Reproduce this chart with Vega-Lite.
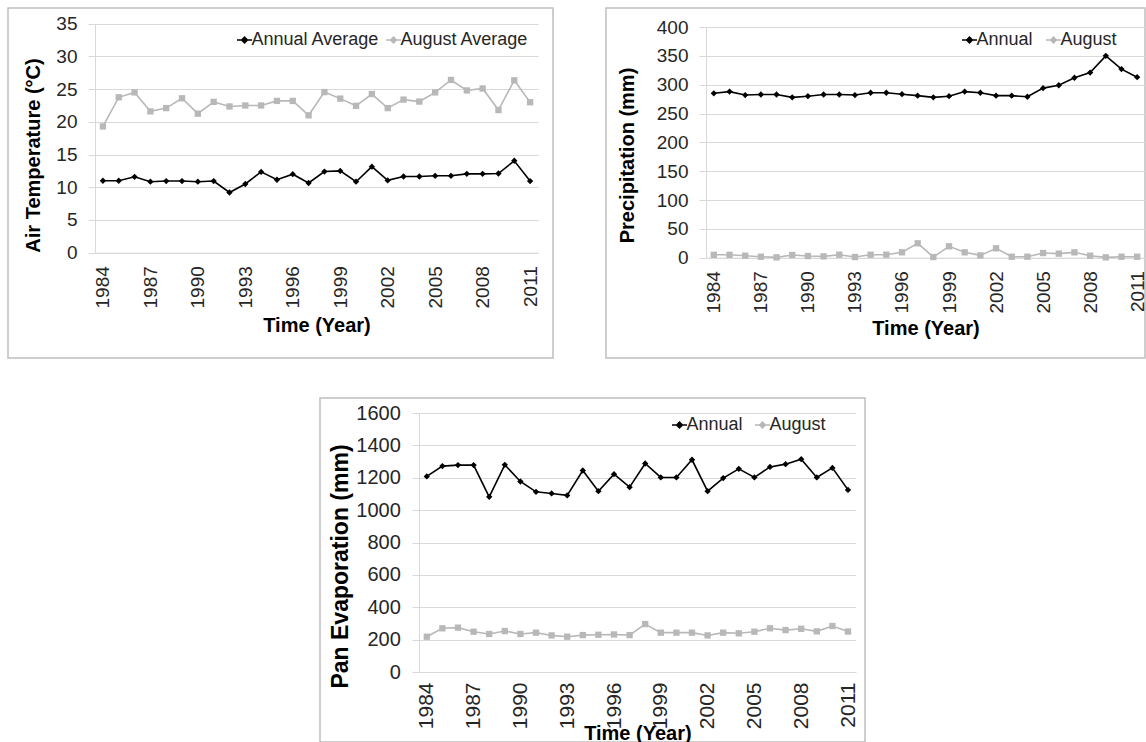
{
  "$schema": "https://vega.github.io/schema/vega-lite/v6.json",
  "padding": {"left": 7, "top": 7, "right": 0, "bottom": 0},
  "background": "white",
  "bounds": "full",
  "spacing": 38,
  "resolve": {"scale": {"color": "independent", "shape": "independent"}, "legend": {"color": "independent", "shape": "independent"}},
  "config": {
    "font": "Liberation Sans",
    "axis": {"labelFont": "Liberation Sans", "labelFontSize": 19, "labelColor": "#262626", "titleFont": "Liberation Sans", "titleFontSize": 20, "titleFontWeight": "bold", "titleColor": "#000000", "gridColor": "#d9d9d9", "domainColor": "#d9d9d9", "tickColor": "#d9d9d9", "gridWidth": 1, "domainWidth": 1, "tickWidth": 1, "labelOverlap": false, "labelFlush": false, "labelBound": false},
    "legend": {"labelFont": "Liberation Sans", "labelFontSize": 18, "labelColor": "#262626", "padding": 0, "symbolSize": 225, "symbolStrokeWidth": 1.6, "labelOffset": -2, "direction": "horizontal", "orient": "none", "title": null}
  },
  "datasets": {
    "temp": [
      {"year":1984,"series":"Annual Average","value":11.0},{"year":1985,"series":"Annual Average","value":11.0},{"year":1986,"series":"Annual Average","value":11.6},{"year":1987,"series":"Annual Average","value":10.85},{"year":1988,"series":"Annual Average","value":10.95},{"year":1989,"series":"Annual Average","value":10.95},{"year":1990,"series":"Annual Average","value":10.85},{"year":1991,"series":"Annual Average","value":10.95},{"year":1992,"series":"Annual Average","value":9.2},{"year":1993,"series":"Annual Average","value":10.5},{"year":1994,"series":"Annual Average","value":12.35},{"year":1995,"series":"Annual Average","value":11.15},{"year":1996,"series":"Annual Average","value":12.0},{"year":1997,"series":"Annual Average","value":10.65},{"year":1998,"series":"Annual Average","value":12.4},{"year":1999,"series":"Annual Average","value":12.5},{"year":2000,"series":"Annual Average","value":10.85},{"year":2001,"series":"Annual Average","value":13.15},{"year":2002,"series":"Annual Average","value":11.05},{"year":2003,"series":"Annual Average","value":11.65},{"year":2004,"series":"Annual Average","value":11.65},{"year":2005,"series":"Annual Average","value":11.75},{"year":2006,"series":"Annual Average","value":11.75},{"year":2007,"series":"Annual Average","value":12.05},{"year":2008,"series":"Annual Average","value":12.05},{"year":2009,"series":"Annual Average","value":12.1},{"year":2010,"series":"Annual Average","value":14.05},{"year":2011,"series":"Annual Average","value":10.95},
      {"year":1984,"series":"August Average","value":19.3},{"year":1985,"series":"August Average","value":23.75},{"year":1986,"series":"August Average","value":24.5},{"year":1987,"series":"August Average","value":21.6},{"year":1988,"series":"August Average","value":22.1},{"year":1989,"series":"August Average","value":23.6},{"year":1990,"series":"August Average","value":21.25},{"year":1991,"series":"August Average","value":23.05},{"year":1992,"series":"August Average","value":22.35},{"year":1993,"series":"August Average","value":22.5},{"year":1994,"series":"August Average","value":22.5},{"year":1995,"series":"August Average","value":23.2},{"year":1996,"series":"August Average","value":23.2},{"year":1997,"series":"August Average","value":21.0},{"year":1998,"series":"August Average","value":24.55},{"year":1999,"series":"August Average","value":23.55},{"year":2000,"series":"August Average","value":22.45},{"year":2001,"series":"August Average","value":24.25},{"year":2002,"series":"August Average","value":22.1},{"year":2003,"series":"August Average","value":23.4},{"year":2004,"series":"August Average","value":23.1},{"year":2005,"series":"August Average","value":24.5},{"year":2006,"series":"August Average","value":26.4},{"year":2007,"series":"August Average","value":24.8},{"year":2008,"series":"August Average","value":25.1},{"year":2009,"series":"August Average","value":21.8},{"year":2010,"series":"August Average","value":26.35},{"year":2011,"series":"August Average","value":23.0}
    ],
    "precip": [
      {"year":1984,"series":"Annual","value":285},{"year":1985,"series":"Annual","value":288},{"year":1986,"series":"Annual","value":282},{"year":1987,"series":"Annual","value":283},{"year":1988,"series":"Annual","value":283},{"year":1989,"series":"Annual","value":278},{"year":1990,"series":"Annual","value":280},{"year":1991,"series":"Annual","value":283},{"year":1992,"series":"Annual","value":283},{"year":1993,"series":"Annual","value":282},{"year":1994,"series":"Annual","value":286},{"year":1995,"series":"Annual","value":286},{"year":1996,"series":"Annual","value":283.5},{"year":1997,"series":"Annual","value":281},{"year":1998,"series":"Annual","value":278},{"year":1999,"series":"Annual","value":280},{"year":2000,"series":"Annual","value":288},{"year":2001,"series":"Annual","value":286},{"year":2002,"series":"Annual","value":281},{"year":2003,"series":"Annual","value":281},{"year":2004,"series":"Annual","value":279},{"year":2005,"series":"Annual","value":294},{"year":2006,"series":"Annual","value":299},{"year":2007,"series":"Annual","value":312},{"year":2008,"series":"Annual","value":321},{"year":2009,"series":"Annual","value":350},{"year":2010,"series":"Annual","value":327},{"year":2011,"series":"Annual","value":313},
      {"year":1984,"series":"August","value":5},{"year":1985,"series":"August","value":5},{"year":1986,"series":"August","value":3.5},{"year":1987,"series":"August","value":1.7},{"year":1988,"series":"August","value":0.6},{"year":1989,"series":"August","value":4.7},{"year":1990,"series":"August","value":2.9},{"year":1991,"series":"August","value":2.3},{"year":1992,"series":"August","value":5.2},{"year":1993,"series":"August","value":1.2},{"year":1994,"series":"August","value":5.2},{"year":1995,"series":"August","value":5.2},{"year":1996,"series":"August","value":9.3},{"year":1997,"series":"August","value":25},{"year":1998,"series":"August","value":1.2},{"year":1999,"series":"August","value":19.8},{"year":2000,"series":"August","value":9.3},{"year":2001,"series":"August","value":4},{"year":2002,"series":"August","value":16.3},{"year":2003,"series":"August","value":1.7},{"year":2004,"series":"August","value":1.7},{"year":2005,"series":"August","value":8.1},{"year":2006,"series":"August","value":7},{"year":2007,"series":"August","value":9.3},{"year":2008,"series":"August","value":3.5},{"year":2009,"series":"August","value":0.6},{"year":2010,"series":"August","value":1.7},{"year":2011,"series":"August","value":1.7}
    ],
    "evap": [
      {"year":1984,"series":"Annual","value":1208},{"year":1985,"series":"Annual","value":1272},{"year":1986,"series":"Annual","value":1278},{"year":1987,"series":"Annual","value":1278},{"year":1988,"series":"Annual","value":1082},{"year":1989,"series":"Annual","value":1280},{"year":1990,"series":"Annual","value":1177},{"year":1991,"series":"Annual","value":1113},{"year":1992,"series":"Annual","value":1103},{"year":1993,"series":"Annual","value":1091},{"year":1994,"series":"Annual","value":1245},{"year":1995,"series":"Annual","value":1117},{"year":1996,"series":"Annual","value":1222},{"year":1997,"series":"Annual","value":1142},{"year":1998,"series":"Annual","value":1288},{"year":1999,"series":"Annual","value":1202},{"year":2000,"series":"Annual","value":1202},{"year":2001,"series":"Annual","value":1311},{"year":2002,"series":"Annual","value":1117},{"year":2003,"series":"Annual","value":1198},{"year":2004,"series":"Annual","value":1255},{"year":2005,"series":"Annual","value":1202},{"year":2006,"series":"Annual","value":1267},{"year":2007,"series":"Annual","value":1284},{"year":2008,"series":"Annual","value":1315},{"year":2009,"series":"Annual","value":1202},{"year":2010,"series":"Annual","value":1261},{"year":2011,"series":"Annual","value":1125},
      {"year":1984,"series":"August","value":218},{"year":1985,"series":"August","value":270},{"year":1986,"series":"August","value":274},{"year":1987,"series":"August","value":249},{"year":1988,"series":"August","value":235},{"year":1989,"series":"August","value":253},{"year":1990,"series":"August","value":235},{"year":1991,"series":"August","value":243},{"year":1992,"series":"August","value":226},{"year":1993,"series":"August","value":218},{"year":1994,"series":"August","value":228},{"year":1995,"series":"August","value":230},{"year":1996,"series":"August","value":232},{"year":1997,"series":"August","value":228},{"year":1998,"series":"August","value":296},{"year":1999,"series":"August","value":243},{"year":2000,"series":"August","value":243},{"year":2001,"series":"August","value":243},{"year":2002,"series":"August","value":226},{"year":2003,"series":"August","value":243},{"year":2004,"series":"August","value":239},{"year":2005,"series":"August","value":249},{"year":2006,"series":"August","value":270},{"year":2007,"series":"August","value":259},{"year":2008,"series":"August","value":267},{"year":2009,"series":"August","value":251},{"year":2010,"series":"August","value":284},{"year":2011,"series":"August","value":250}
    ]
  },
  "vconcat": [
    {
      "hconcat": [
        {
          "width": 545, "height": 350,
          "view": {"stroke": "#bfbfbf", "strokeWidth": 1.5},
          "data": {"name": "temp"},
          "encoding": {
            "x": {"field": "year", "type": "quantitative",
              "scale": {"domain": [1983.5, 2011.5], "range": [87, 530], "nice": false, "zero": false},
              "axis": {"values": [1984,1987,1990,1993,1996,1999,2002,2005,2008,2011], "format": "d", "labelAngle": -90, "grid": false, "ticks": false, "labelPadding": 13, "offset": -105.3, "title": "Time (Year)", "titleY": 73, "titleBaseline": "middle"}},
            "y": {"field": "value", "type": "quantitative",
              "scale": {"domain": [0, 35], "range": [244.7, 15.7], "nice": false},
              "axis": {"values": [0,5,10,15,20,25,30,35], "format": "d", "grid": true, "tickSize": 7, "labelPadding": 11, "offset": -87, "title": "Air Temperature (°C)", "titleX": -61.5, "titleY": 147, "titleBaseline": "middle", "titleAlign": "center"}}
          },
          "layer": [
            {"mark": {"type": "line", "strokeWidth": 1.6},
             "encoding": {"color": {"field": "series", "type": "nominal",
              "scale": {"domain": ["Annual Average", "August Average"], "range": ["#000000", "#b8b8b8"]},
              "legend": {"legendX": 227.5, "legendY": 23, "columnPadding": 3, "symbolType": "M-1,0H1M-0.38,0L0,-0.38L0.38,0L0,0.38Z"}}}},
            {"mark": {"type": "point", "filled": true, "opacity": 1, "size": 40},
             "encoding": {
               "color": {"field": "series", "type": "nominal", "legend": null},
               "shape": {"condition": {"test": "datum['series'] === 'Annual Average'", "value": "diamond"}, "value": "square"}}}
          ]
        },
        {
          "width": 539, "height": 350,
          "view": {"stroke": "#bfbfbf", "strokeWidth": 1.5},
          "data": {"name": "precip"},
          "encoding": {
            "x": {"field": "year", "type": "quantitative",
              "scale": {"domain": [1983.5, 2011.5], "range": [100, 539], "nice": false, "zero": false},
              "axis": {"values": [1984,1987,1990,1993,1996,1999,2002,2005,2008,2011], "format": "d", "labelAngle": -90, "grid": false, "ticks": false, "labelPadding": 13, "offset": -100.3, "title": "Time (Year)", "titleY": 71, "titleBaseline": "middle"}},
            "y": {"field": "value", "type": "quantitative",
              "scale": {"domain": [0, 400], "range": [249.7, 19], "nice": false},
              "axis": {"values": [0,50,100,150,200,250,300,350,400], "format": "d", "grid": true, "tickSize": 7, "labelPadding": 11, "offset": -100, "title": "Precipitation (mm)", "titleX": -78.5, "titleY": 147, "titleBaseline": "middle", "titleAlign": "center"}}
          },
          "layer": [
            {"mark": {"type": "line", "strokeWidth": 1.6},
             "encoding": {"color": {"field": "series", "type": "nominal",
              "scale": {"domain": ["Annual", "August"], "range": ["#000000", "#b8b8b8"]},
              "legend": {"legendX": 354.5, "legendY": 23, "columnPadding": 9, "symbolType": "M-1,0H1M-0.38,0L0,-0.38L0.38,0L0,0.38Z"}}}},
            {"mark": {"type": "point", "filled": true, "opacity": 1, "size": 40},
             "encoding": {
               "color": {"field": "series", "type": "nominal", "legend": null},
               "shape": {"condition": {"test": "datum['series'] === 'Annual'", "value": "diamond"}, "value": "square"}}}
          ]
        }
      ],
      "spacing": 53,
      "bounds": "flush",
      "resolve": {"scale": {"color": "independent", "shape": "independent"}, "legend": {"color": "independent", "shape": "independent"}}
    },
    {
      "hconcat": [
        {
          "width": 312, "height": 10,
          "view": {"stroke": null},
          "data": {"values": [{"a": 0}]},
          "mark": {"type": "point", "opacity": 0}
        },
        {
          "width": 545, "height": 344,
          "view": {"stroke": "#bfbfbf", "strokeWidth": 1.5},
          "data": {"name": "evap"},
          "encoding": {
            "x": {"field": "year", "type": "quantitative",
              "scale": {"domain": [1983.5, 2011.5], "range": [99, 535.8], "nice": false, "zero": false},
              "axis": {"values": [1984,1987,1990,1993,1996,1999,2002,2005,2008,2011], "format": "d", "labelAngle": -90, "labelFontSize": 21, "grid": false, "ticks": false, "labelPadding": 10, "offset": -70, "title": "Time (Year)", "titleY": 61, "titleBaseline": "middle"}},
            "y": {"field": "value", "type": "quantitative",
              "scale": {"domain": [0, 1600], "range": [274, 15], "nice": false},
              "axis": {"values": [0,200,400,600,800,1000,1200,1400,1600], "format": "d", "labelFontSize": 20, "grid": true, "tickSize": 7, "labelPadding": 11.7, "offset": -99, "title": "Pan Evaporation (mm)", "titleFontSize": 23, "titleX": -79, "titleY": 168, "titleBaseline": "middle", "titleAlign": "center"}}
          },
          "layer": [
            {"mark": {"type": "line", "strokeWidth": 1.6},
             "encoding": {"color": {"field": "series", "type": "nominal",
              "scale": {"domain": ["Annual", "August"], "range": ["#000000", "#b8b8b8"]},
              "legend": {"legendX": 350.5, "legendY": 18, "columnPadding": 8, "symbolType": "M-1,0H1M-0.38,0L0,-0.38L0.38,0L0,0.38Z"}}}},
            {"mark": {"type": "point", "filled": true, "opacity": 1, "size": 40},
             "encoding": {
               "color": {"field": "series", "type": "nominal", "legend": null},
               "shape": {"condition": {"test": "datum['series'] === 'Annual'", "value": "diamond"}, "value": "square"}}}
          ]
        }
      ],
      "spacing": 0,
      "bounds": "flush",
      "resolve": {"scale": {"color": "independent", "shape": "independent"}, "legend": {"color": "independent", "shape": "independent"}}
    }
  ]
}
